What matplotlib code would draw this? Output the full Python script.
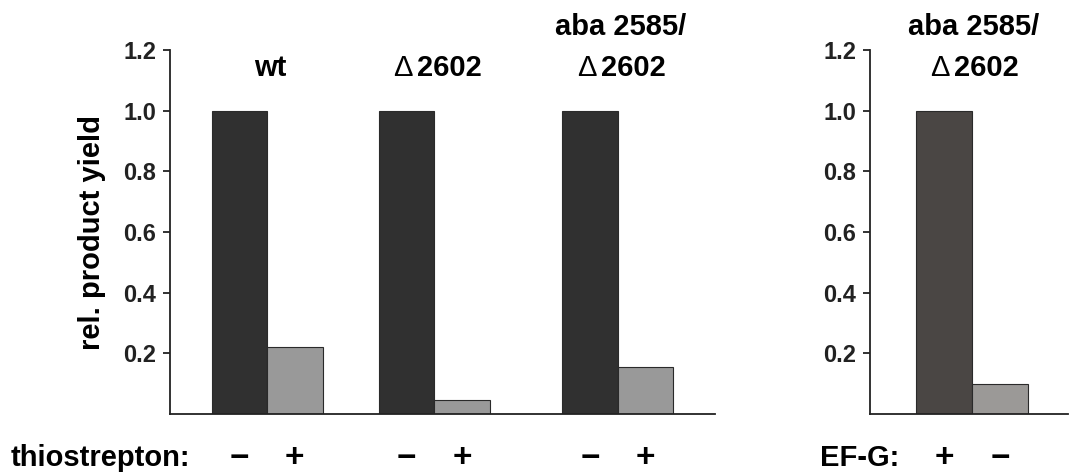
import matplotlib
matplotlib.use('Agg')
import matplotlib.pyplot as plt
import matplotlib.transforms as mtransforms

plt.rcParams['font.family'] = ['Liberation Sans', 'DejaVu Sans']
plt.rcParams['font.weight'] = 'bold'

# data
strains = ['wt', '\u0394 2602', 'aba 2585/\n\u0394 2602']
yield_minus = [1.0, 1.0, 1.0]      # - thiostrepton
yield_plus = [0.222, 0.047, 0.154]  # + thiostrepton
thio_signs = ['\u2212', '+']

efg_strain = 'aba 2585/\n\u0394 2602'
efg_yield = [1.0, 0.099]            # + EF-G, - EF-G
efg_signs = ['+', '\u2212']

yticks = [0.2, 0.4, 0.6, 0.8, 1.0, 1.2]
ytick_labels = ['0.2', '0.4', '0.6', '0.8', '1.0', '1.2']

# layout (bar width = 1 unit)
group_mid = [1.75, 4.76, 8.07]
efg_mid = 1.83

dark = '#303030'
light = '#999999'
dark2 = '#4a4644'
light2 = '#9b9997'
edge = '#2a2a2a'

fig = plt.figure(figsize=(10.76, 4.76), dpi=100)
ax1 = fig.add_axes([170/1076, 62/476, 545/1076, 364/476])
ax2 = fig.add_axes([870/1076, 62/476, 198/1076, 364/476])


def style(ax, xmax):
    ax.set_xlim(0, xmax)
    ax.set_ylim(0, 1.2)
    for s in ['top', 'right']:
        ax.spines[s].set_visible(False)
    ax.spines['left'].set_linewidth(1.3)
    ax.spines['bottom'].set_linewidth(1.3)
    ax.spines['left'].set_color('#222222')
    ax.spines['bottom'].set_color('#222222')
    ax.set_xticks([])
    ax.set_yticks(yticks)
    ax.set_yticklabels(ytick_labels, fontsize=17, fontweight='bold', color='#222222')
    ax.tick_params(axis='y', length=5, width=1.3, color='#222222', pad=5)


def one_line(ax, x, y, s):
    # the delta sign is drawn thin, the rest bold
    if s.startswith('\u0394 '):
        ax.annotate(s[2:], (x, y), xytext=(-14.4, 0), textcoords='offset points',
                    ha='left', va='center', fontsize=21, fontweight='bold',
                    annotation_clip=False)
        ax.annotate('\u0394', (x, y), xytext=(-17.5, 0), textcoords='offset points',
                    ha='right', va='center', fontsize=21, fontweight='normal',
                    annotation_clip=False)
    else:
        ax.text(x, y, s, ha='center', va='center', fontsize=21,
                fontweight='bold', clip_on=False)


def title2(ax, x, label):
    lines = label.split('\n')
    if len(lines) == 1:
        one_line(ax, x, 1.141, lines[0])
    else:
        one_line(ax, x, 1.276, lines[0])
        one_line(ax, x, 1.141, lines[1])


# left panel
style(ax1, 9.82)
for i in range(len(strains)):
    xm = group_mid[i] - 0.5
    xp = group_mid[i] + 0.5
    ax1.bar(xm, yield_minus[i], width=1, color=dark, edgecolor=edge, linewidth=0.8)
    ax1.bar(xp, yield_plus[i], width=1, color=light, edgecolor=edge, linewidth=0.8)
    title2(ax1, group_mid[i] + 0.05, strains[i])
    tr = mtransforms.blended_transform_factory(ax1.transData, ax1.transAxes)
    ax1.text(xm, -0.121, thio_signs[0], transform=tr, ha='center', va='center',
             fontsize=24, fontweight='bold')
    ax1.text(xp, -0.121, thio_signs[1], transform=tr, ha='center', va='center',
             fontsize=24, fontweight='bold')
ax1.set_ylabel('rel. product yield', fontsize=21, fontweight='bold', labelpad=12)

# right panel
style(ax2, 3.54)
ax2.bar(efg_mid - 0.5, efg_yield[0], width=1, color=dark2, edgecolor=edge, linewidth=0.8)
ax2.bar(efg_mid + 0.5, efg_yield[1], width=1, color=light2, edgecolor=edge, linewidth=0.8)
title2(ax2, efg_mid + 0.03, efg_strain)
tr2 = mtransforms.blended_transform_factory(ax2.transData, ax2.transAxes)
ax2.text(efg_mid - 0.5, -0.121, efg_signs[0], transform=tr2, ha='center', va='center',
         fontsize=24, fontweight='bold')
ax2.text(efg_mid + 0.5, -0.121, efg_signs[1], transform=tr2, ha='center', va='center',
         fontsize=24, fontweight='bold')

fig.text(100/1076, 1 - 458/476, 'thiostrepton:', ha='center', va='center',
         fontsize=21, fontweight='bold')
fig.text(860/1076, 1 - 458/476, 'EF-G:', ha='center', va='center',
         fontsize=21, fontweight='bold')

fig.savefig('out.png', dpi=100)
